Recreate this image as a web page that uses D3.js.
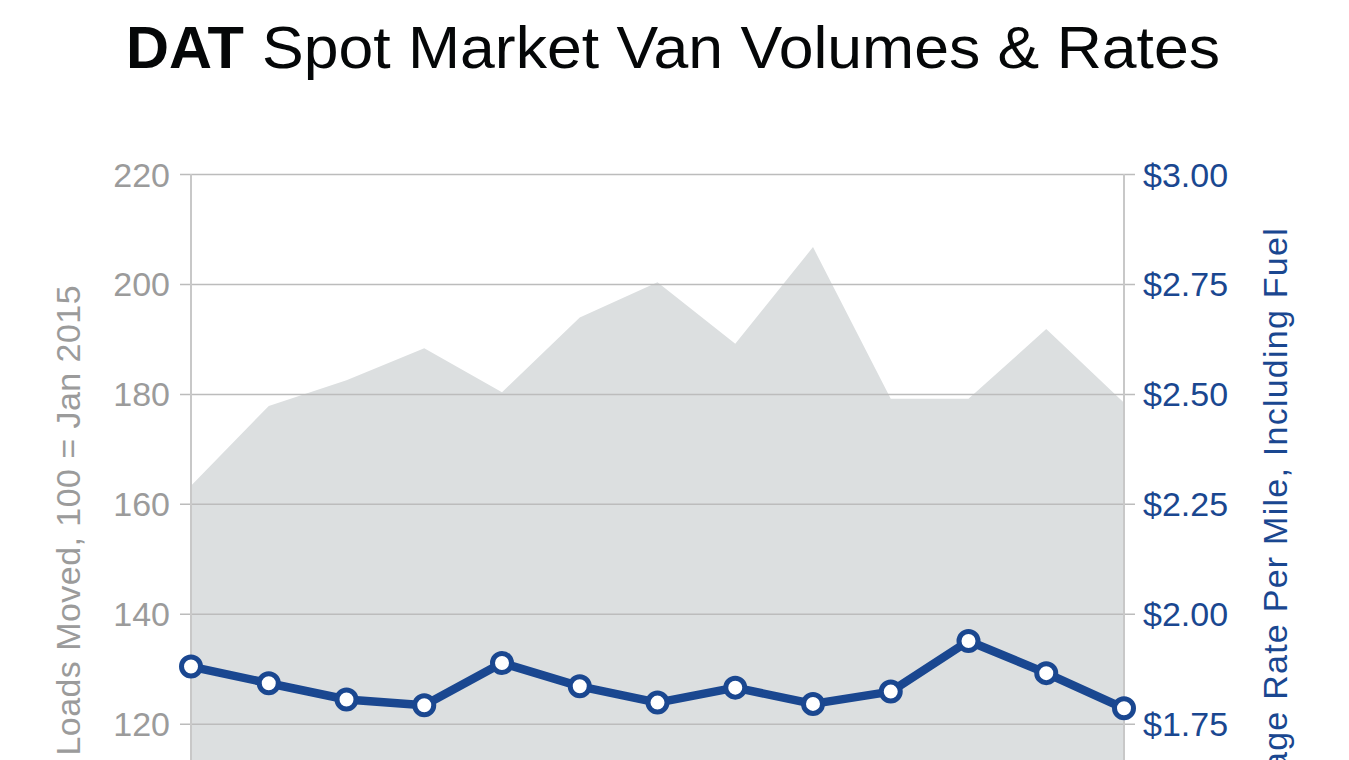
<!DOCTYPE html>
<html>
<head>
<meta charset="utf-8">
<script src="https://cdnjs.cloudflare.com/ajax/libs/d3/7.8.5/d3.min.js"></script>
<style>
  html, body { margin: 0; padding: 0; background: #ffffff; overflow: hidden; }
  svg { display: block; }
  text { font-family: "Liberation Sans", Arial, Helvetica, sans-serif; }
</style>
</head>
<body>
<svg id="chart" width="1349" height="760"></svg>
<script>
// ---- Data ----
const months = ["Jan '17", "Feb '17", "Mar '17", "Apr '17", "May '17", "Jun '17", "Jul '17",
                "Aug '17", "Sep '17", "Oct '17", "Nov '17", "Dec '17", "Jan '18"];
const loadsMoved = [163.3, 177.8, 182.5, 188.3, 180.3, 193.9, 200.3, 189.1, 206.7, 179.1, 179.1, 191.8, 178.4];
const ratePerMile = [1.880, 1.842, 1.805, 1.792, 1.888, 1.835, 1.798, 1.832, 1.795, 1.823, 1.938, 1.865, 1.785];
const leftTicks = [120, 140, 160, 180, 200, 220];
const rightTicks = [1.75, 2.00, 2.25, 2.50, 2.75, 3.00];

const titleBold = "DAT";
const titleRest = "Spot Market Van Volumes & Rates";
const leftTitle = "Loads Moved, 100 = Jan 2015";
const rightTitle = "Average Rate Per Mile, Including Fuel";

// ---- Layout ----
const svg = d3.select("#chart");
const plotLeft = 191, plotRight = 1124;
const yTop = 174, y120 = 723.7;

const x = d3.scalePoint().domain(months).range([plotLeft, plotRight]).padding(0);
const yL = d3.scaleLinear().domain([120, 220]).range([y120, yTop]);
const yR = d3.scaleLinear().domain([1.75, 3.00]).range([y120, yTop]);
const yBottom = yL(80);

const gray = "#9b9b9b";
const blue = "#1a4790";

// Area (loads moved)
const area = d3.area()
  .x((d, i) => x(months[i]))
  .y0(yBottom)
  .y1(d => yL(d));
svg.append("path")
  .datum(loadsMoved)
  .attr("d", area)
  .attr("fill", "#dcdfe0");

// Gridlines via left axis
const gridAxis = d3.axisLeft(yL).tickValues(leftTicks).tickSize(0).tickFormat("");
svg.append("g")
  .attr("transform", `translate(${plotLeft - 11},0)`)
  .call(gridAxis)
  .call(g => g.select(".domain").remove())
  .call(g => g.selectAll("line").attr("stroke", "#bcbcbc").attr("stroke-width", 1.5)
      .attr("x1", 0).attr("x2", plotRight - plotLeft + 22));

// Vertical axis lines
svg.append("line").attr("x1", plotLeft).attr("x2", plotLeft).attr("y1", yTop).attr("y2", yBottom)
  .attr("stroke", "#c8c8c8").attr("stroke-width", 2);
svg.append("line").attr("x1", plotRight).attr("x2", plotRight).attr("y1", yTop).attr("y2", yBottom)
  .attr("stroke", "#c8c8c8").attr("stroke-width", 2);

// Left axis labels
const leftAxis = d3.axisLeft(yL).tickValues(leftTicks).tickSize(0).tickPadding(21).tickFormat(d3.format("d"));
svg.append("g")
  .attr("transform", `translate(${plotLeft},0)`)
  .call(leftAxis)
  .call(g => g.select(".domain").remove())
  .call(g => g.selectAll("text")
      .attr("fill", gray).attr("font-size", 34).attr("dy", null).attr("y", 12)
      .style("font-family", "'Liberation Sans', Arial, sans-serif"));

// Right axis labels
const rightAxis = d3.axisRight(yR).tickValues(rightTicks).tickSize(0).tickPadding(19).tickFormat(d => "$" + d3.format(".2f")(d));
svg.append("g")
  .attr("transform", `translate(${plotRight},0)`)
  .call(rightAxis)
  .call(g => g.select(".domain").remove())
  .call(g => g.selectAll("text")
      .attr("fill", blue).attr("font-size", 34).attr("dy", null).attr("y", 12)
      .style("font-family", "'Liberation Sans', Arial, sans-serif"));

// Rate line
const line = d3.line().x((d, i) => x(months[i])).y(d => yR(d));
svg.append("path")
  .datum(ratePerMile)
  .attr("d", line)
  .attr("fill", "none")
  .attr("stroke", blue)
  .attr("stroke-width", 8.5)
  .attr("stroke-linejoin", "round");
svg.append("g").selectAll("circle")
  .data(ratePerMile)
  .join("circle")
  .attr("cx", (d, i) => x(months[i]))
  .attr("cy", d => yR(d))
  .attr("r", 9.5)
  .attr("fill", "#ffffff")
  .attr("stroke", blue)
  .attr("stroke-width", 5);

// Axis titles
svg.append("text")
  .attr("transform", "translate(80,285) rotate(-90)")
  .attr("text-anchor", "end")
  .attr("font-size", 34)
  .attr("letter-spacing", 0.45)
  .attr("fill", gray)
  .text(leftTitle);
svg.append("text")
  .attr("transform", "translate(1287,227) rotate(-90)")
  .attr("text-anchor", "end")
  .attr("font-size", 34)
  .attr("letter-spacing", 1.25)
  .attr("fill", blue)
  .text(rightTitle);

// Title
svg.append("text")
  .attr("x", 126).attr("y", 68)
  .attr("font-size", 59)
  .attr("font-weight", 900)
  .attr("fill", "#050708")
  .attr("textLength", 118)
  .attr("lengthAdjust", "spacingAndGlyphs")
  .text(titleBold);
svg.append("text")
  .attr("x", 262).attr("y", 68)
  .attr("font-size", 59)
  .attr("fill", "#050708")
  .attr("textLength", 958)
  .attr("lengthAdjust", "spacingAndGlyphs")
  .text(titleRest);
</script>
</body>
</html>
